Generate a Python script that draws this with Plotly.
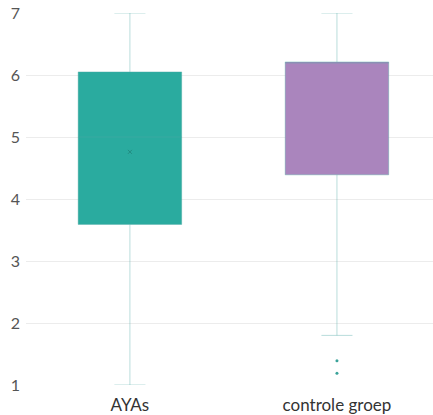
import plotly.graph_objects as go

categories = ["AYAs", "controle groep"]
q1 = [3.59, 4.39]
median = [5.0, 6.21]
q3 = [6.05, 6.21]
lower = [1.0, 1.80]
upper = [7.0, 7.0]
means = [4.76]
outliers_x = ["controle groep", "controle groep"]
outliers_y = [1.39, 1.19]
fills = ["#2aab9f", "#aa85bd"]
y_ticks = [1, 2, 3, 4, 5, 6, 7]

fig = go.Figure()
for i, c in enumerate(categories):
    fig.add_trace(go.Box(
        x=[c], q1=[q1[i]], median=[median[i]], q3=[q3[i]],
        lowerfence=[lower[i]], upperfence=[upper[i]],
        fillcolor=fills[i], line=dict(color="rgba(80,170,165,0.4)", width=1),
        width=0.5, whiskerwidth=0.3, boxpoints=False, showlegend=False,
        hoverinfo="skip"))

fig.add_trace(go.Scatter(x=[categories[0]], y=means, mode="markers",
                         marker=dict(symbol="x-thin", size=4, color="rgba(30,120,110,0.6)",
                                     line=dict(width=1, color="rgba(30,120,110,0.6)")),
                         showlegend=False, hoverinfo="skip"))
fig.add_trace(go.Scatter(x=outliers_x, y=outliers_y, mode="markers",
                         marker=dict(size=3, color="#3aa39a"),
                         showlegend=False, hoverinfo="skip"))

fig.update_layout(
    width=433, height=415,
    margin=dict(l=26, r=0, t=13, b=30),
    paper_bgcolor="white", plot_bgcolor="white",
    font=dict(family="Lato, Open Sans, sans-serif"),
    xaxis=dict(type="category", range=[-0.502, 1.464], showgrid=False,
               showline=False, ticks="", tickfont=dict(size=17, color="#333333"),
               zeroline=False, ticklabelstandoff=8),
    yaxis=dict(range=[1, 7], tickvals=y_ticks, showgrid=True, gridcolor="#ececec",
               gridwidth=1, zeroline=False, showline=False,
               tickfont=dict(size=16, color="#555555"), ticklen=0, ticklabelstandoff=5),
    boxmode="overlay",
)
fig.write_html("out.html", config={"displayModeBar": False},
               post_script="document.body.style.margin='0';document.body.style.overflow='hidden';")
